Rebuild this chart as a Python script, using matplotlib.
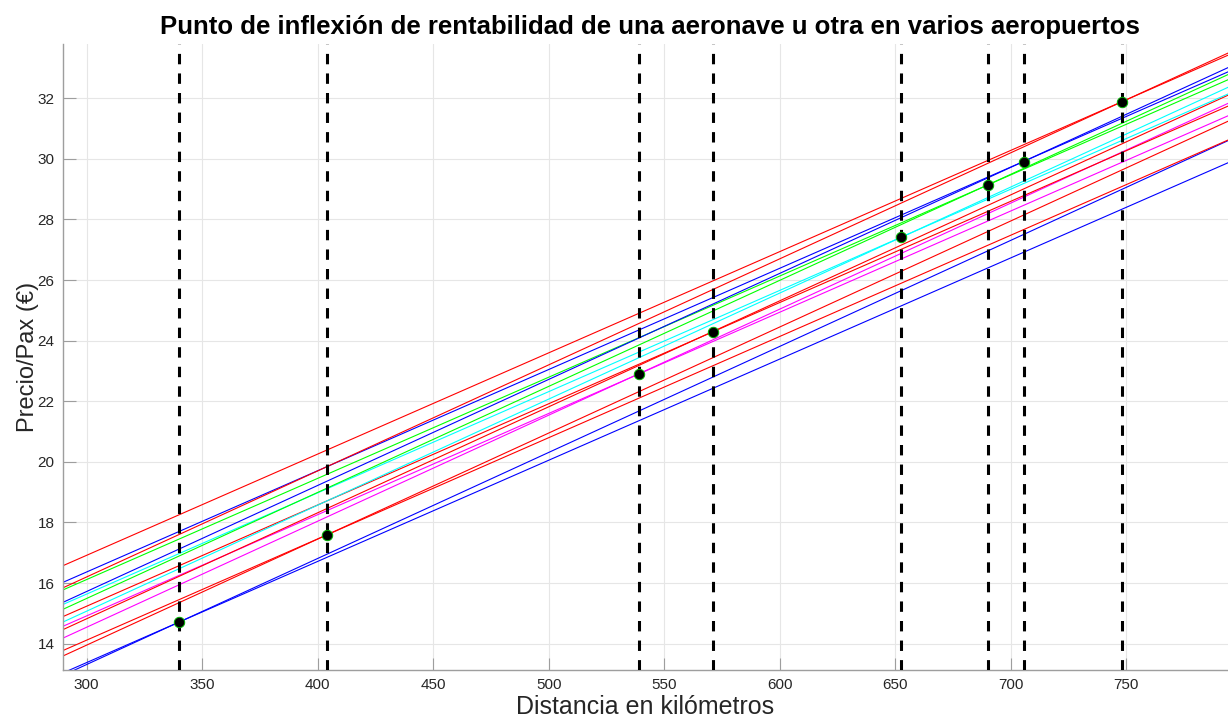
import matplotlib
matplotlib.use("Agg")
import matplotlib.pyplot as plt

plt.rcParams['font.family'] = ['Liberation Sans', 'DejaVu Sans']

# Break-even points (one per airport)
breakeven_km = [340, 404, 539, 571, 652.5, 690, 705.5, 748]
breakeven_price = [14.71, 17.59, 22.90, 24.29, 27.41, 29.14, 29.91, 31.88]

# Cost lines (two aircraft per airport): price at the left (290 km) and right (794 km) ends
line_colors = ['b', 'b', 'r', 'r', 'm', 'm', 'r', 'r',
               'c', 'c', 'g', 'g', 'b', 'b', 'r', 'r']
line_x_start = 290
line_x_end = 794
price_at_start = [13.04, 12.96, 13.78, 13.60, 14.58, 14.19, 14.90, 14.47,
                  15.30, 14.72, 15.78, 15.14, 16.03, 15.37, 16.58, 15.85]
price_at_end = [29.87, 30.60, 30.62, 31.24, 31.42, 31.83, 31.74, 32.10,
                32.14, 32.36, 32.61, 32.78, 32.87, 33.01, 33.42, 33.49]

x_ticks = [300, 350, 400, 450, 500, 550, 600, 650, 700, 750]
y_ticks = [14, 16, 18, 20, 22, 24, 26, 28, 30, 32]

color_map = {'r': (1, 0, 0), 'b': (0, 0, 1), 'g': (0, 1, 0), 'c': (0, 1, 1), 'm': (1, 0, 1)}

fig = plt.figure(figsize=(12.28, 7.2), dpi=100)
ax = fig.add_axes([63 / 1228, 50 / 720, 1 - 63 / 1228, 626 / 720])

for c, y1, y2 in zip(line_colors, price_at_start, price_at_end):
    ax.plot([line_x_start, line_x_end], [y1, y2], color=color_map[c], lw=0.8, zorder=2)

for xk in breakeven_km:
    ax.axvline(xk, color='k', lw=2.2, dashes=(3.4, 3.0), zorder=3)

ax.plot(breakeven_km, breakeven_price, 'o', color='k', markersize=7.5,
        markeredgecolor=(0, 0.7, 0), markeredgewidth=0.7, zorder=4, linestyle='none')

ax.set_xlim(289.8, 794)
ax.set_ylim(13.13, 33.79)
ax.set_xticks(x_ticks)
ax.set_yticks(y_ticks)

ax.grid(True, color=(0.9, 0.9, 0.9), lw=0.8, zorder=0)
ax.set_axisbelow(True)
for s in ['top', 'right']:
    ax.spines[s].set_visible(False)
for s in ['left', 'bottom']:
    ax.spines[s].set_color((0.62, 0.62, 0.62))
    ax.spines[s].set_linewidth(1.0)
ax.tick_params(direction='in', length=9, width=0.8, color=(0.62, 0.62, 0.62),
               labelsize=11, labelcolor=(0.15, 0.15, 0.15), pad=6)

ax.set_xlabel('Distancia en kilómetros', fontsize=18, color=(0.15, 0.15, 0.15), labelpad=2)
ax.set_ylabel('Precio/Pax (€)', fontsize=17, color=(0.15, 0.15, 0.15), labelpad=-1)
ax.set_title('Punto de inflexión de rentabilidad de una aeronave u otra en varios aeropuertos',
             fontsize=18.5, fontweight='bold', pad=7, x=(650 - 63) / (1228 - 63))

fig.savefig('out.png', dpi=100)
